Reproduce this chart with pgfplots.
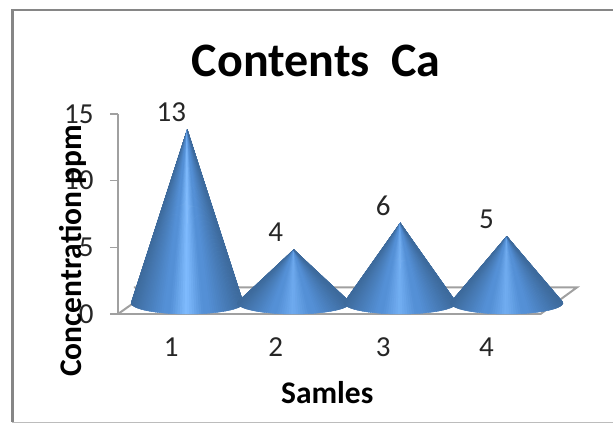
\documentclass[border=0pt]{standalone}
\usepackage{pgfplots}
\pgfplotsset{compat=1.18}
\usepackage{fontspec}
\setmainfont{Carlito}
\definecolor{frameline}{HTML}{868686}
\definecolor{axisline}{HTML}{A0A0A0}
\definecolor{labelink}{HTML}{262626}
\definecolor{coneedge}{HTML}{3D6A9C}
\definecolor{conemid}{HTML}{5490D6}
\definecolor{conepeakfull}{HTML}{80BCFF}

% Fan of thin facets from the apex (mark origin) to the elliptical base
\newcommand{\drawcone}[1]{%
  \pgfmathsetmacro{\coneh}{#1*200/15}%
  \pgfmathsetmacro{\conegain}{min(100,45+4.2*#1)}%
  \colorlet{conepeak}{conepeakfull!\conegain!conemid}%
  \foreach \a in {165,167.5,...,373}{%
    \pgfmathsetmacro{\ab}{\a+3.5}%
    \pgfmathsetmacro{\t}{abs(cos(\a+1.75))}%
    \pgfmathsetmacro{\pa}{\t<0.3 ? 100*(1-\t/0.3) : 0}%
    \pgfmathsetmacro{\pb}{\t>0.4 ? 100*(\t-0.4)/0.6 : 0}%
    \colorlet{facet}{conepeak!\pa!conemid}%
    \colorlet{facet}{coneedge!\pb!facet}%
    \pgfmathsetmacro{\xa}{56*cos(\a)}%
    \pgfmathsetmacro{\ya}{-\coneh+11*sin(\a)}%
    \pgfmathsetmacro{\xb}{56*cos(\ab)}%
    \pgfmathsetmacro{\yb}{-\coneh+11*sin(\ab)}%
    \fill[facet]
      (0pt,0pt) -- (\xa pt,\ya pt) -- (\xb pt,\yb pt) -- cycle;
  }%
}

\pgfplotstableread{
x y
1 13
2 4
3 6
4 5
}\concentration

% Label positions along the category axis
\pgfplotstableread{
x y
1 13
1.98 4
2.99 6
3.96 5
}\valuelabels

\begin{document}
\begin{tikzpicture}[x=1pt,y=1pt]
\useasboundingbox (-118,-109) rectangle (495,314);
\draw[frameline,line width=2.4pt] (495,304) -- (-105.5,304) -- (-105.5,-108);
\draw[axisline!70,line width=1pt] (-105.5,-108.5) -- (495,-108.5);
\begin{axis}[
  at={(0,0)},anchor=south west,
  width=422.5pt,height=200pt,scale only axis,
  xmin=0.5,xmax=4.467,ymin=0,ymax=15,
  clip=false,
  axis x line*=bottom,axis y line*=left,
  axis line style={axisline,line width=2pt,-},
  xtick={1,1.98,2.99,3.96},xticklabels={1,2,3,4},ytick={0,5,10,15},
  tick style={axisline,line width=1.6pt},
  xtick style={draw=none},
  ytick align=outside,
  major tick length=8pt,
  tick label style={font=\fontsize{29}{29}\selectfont,text=labelink},
  /pgf/number format/assume math mode=true,
  yticklabel style={xshift=-13pt},
  xticklabel style={yshift=-20pt},
  xlabel={Samles},
  ylabel={Concentration ppm},
  label style={font=\bfseries\fontsize{31.5}{31.5}\selectfont,text=black},
  xlabel style={at={(axis description cs:0.5,0)},anchor=center,yshift=-79pt,xshift=-2pt},
  ylabel style={at={(axis description cs:0,0.315)},anchor=center,yshift=45pt},
  title={Contents\ \ Ca},
  title style={font=\bfseries\fontsize{48}{48}\selectfont,at={(axis description cs:0.467,1)},anchor=center,yshift=47pt,xshift=1pt},
]
% Floor of the 3-D plot box
\addplot[axisline,line width=2pt] coordinates {(0.5,0) (0.65,0.85)};
\addplot[axisline,line width=2pt] coordinates {(0.65,2) (4.81,2) (4.467,0)};
% Cones stand back from the front edge by the box depth
\addplot[scatter,only marks,mark size=0pt,xshift=16pt,yshift=11pt,
  visualization depends on={rawy\as\coneval},
  scatter/@pre marker code/.code={\scope\drawcone{\coneval}},
  scatter/@post marker code/.code={\endscope},
] table[x=x,y=y] {\concentration};
% Value labels
\addplot[only marks,mark=none,
  nodes near coords,
  nodes near coords style={anchor=center,yshift=28pt,font=\fontsize{29}{29}\selectfont,text=labelink},
] table[x=x,y=y] {\valuelabels};
\end{axis}
\end{tikzpicture}
\end{document}
